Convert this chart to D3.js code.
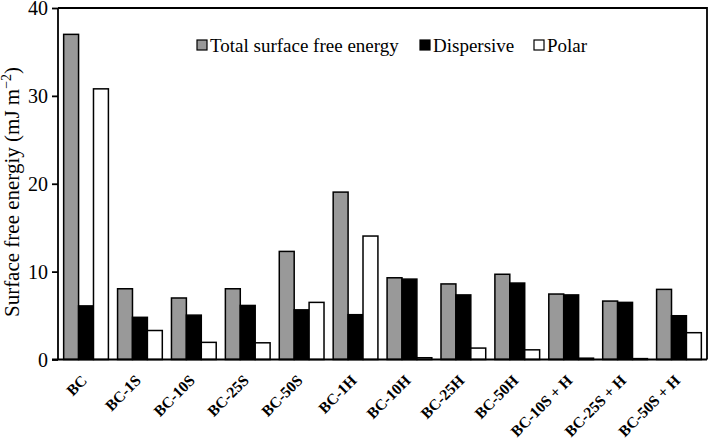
<!DOCTYPE html>
<html>
<head>
<meta charset="utf-8">
<script src="https://cdn.jsdelivr.net/npm/d3@7"></script>
<style>
  body { margin: 0; background: #fff; }
  svg { display: block; }
  svg text { font-family: "Liberation Serif", "Times New Roman", Times, serif !important; fill: #000; }
</style>
</head>
<body>
<svg id="chart" width="709" height="448"></svg>
<script>
const categories = ["BC","BC-1S","BC-10S","BC-25S","BC-50S","BC-1H","BC-10H","BC-25H","BC-50H","BC-10S + H","BC-25S + H","BC-50S + H"];
const seriesNames = ["Total surface free energy","Dispersive","Polar"];
const totalValues = [37.0, 8.05, 7.0, 8.05, 12.3, 19.05, 9.3, 8.6, 9.7, 7.45, 6.65, 7.98];
const dispersiveValues = [6.1, 4.8, 5.05, 6.15, 5.65, 5.1, 9.15, 7.35, 8.7, 7.35, 6.5, 4.98];
const polarValues = [30.8, 3.3, 1.95, 1.9, 6.5, 14.05, 0.2, 1.3, 1.1, 0.15, 0.1, 3.05];
const yTicks = [0, 10, 20, 30, 40];
const colors = ["#999999", "#000000", "#ffffff"];

const FONT = '"Liberation Serif", "Times New Roman", Times, serif';
const series = [totalValues, dispersiveValues, polarValues];
const svg = d3.select("#chart");
const margin = {left: 58, right: 2, top: 8, bottom: 88.5};
const W = 709, H = 448;

const x = d3.scaleBand().domain(categories).range([margin.left, W - margin.right])
  .paddingInner(0.17).paddingOuter(0.105);
const xs = d3.scaleBand().domain(seriesNames).range([0, x.bandwidth()]);
const y = d3.scaleLinear().domain([0, 40]).range([H - margin.bottom, margin.top]);

// bars
const g = svg.append("g");
categories.forEach((c, i) => {
  seriesNames.forEach((s, j) => {
    const v = series[j][i];
    g.append("rect")
      .attr("x", x(c) + xs(s))
      .attr("y", y(v))
      .attr("width", xs.bandwidth())
      .attr("height", y(0) - y(v))
      .attr("fill", colors[j])
      .attr("stroke", "#000")
      .attr("stroke-width", 1.5);
  });
});

// frame top/right
svg.append("path")
  .attr("d", `M${margin.left},${y(40)}H${W - margin.right}V${y(0)}`)
  .attr("fill", "none").attr("stroke", "#000").attr("stroke-width", 1.8);

// y axis
const yAxis = svg.append("g").attr("transform", `translate(${margin.left},0)`)
  .call(d3.axisLeft(y).tickValues(yTicks).tickSize(6).tickPadding(4));
yAxis.attr("font-family", FONT);
yAxis.selectAll("path, line").attr("stroke", "#000").attr("stroke-width", 1.8);
yAxis.selectAll("text").attr("font-family", FONT).style("font-size", "20px").attr("dy", "0.34em");
yAxis.select(".domain").attr("d", `M0,${y(40)}V${y(0)}`);

// x axis
const xAxis = svg.append("g").attr("transform", `translate(0,${y(0)})`)
  .call(d3.axisBottom(x).tickSize(0).tickFormat(""));
xAxis.select(".domain").attr("d", `M${margin.left - 6},0H${W - margin.right}`)
  .attr("stroke", "#000").attr("stroke-width", 1.8);

// category labels
svg.append("g").selectAll("text").data(categories).join("text")
  .attr("transform", d => `translate(${x(d) + x.bandwidth() / 2 + 2},${y(0) + 22}) rotate(-45)`)
  .attr("text-anchor", "end")
  .attr("font-family", FONT)
  .style("font-size", "15.5px")
  .style("font-weight", "bold")
  .text(d => d);

// y label
const yl = svg.append("text")
  .attr("transform", `translate(19,${192}) rotate(-90)`)
  .attr("text-anchor", "middle")
  .attr("font-family", FONT)
  .style("font-size", "21px");
yl.append("tspan").text("Surface free energiy (mJ m");
yl.append("tspan").attr("dy", -8).style("font-size", "14px").text("\u22122");
yl.append("tspan").attr("dy", 8).text(")");

// legend
const legendX = [197, 420, 534];
const legend = svg.append("g");
seriesNames.forEach((s, j) => {
  legend.append("rect")
    .attr("x", legendX[j]).attr("y", 40).attr("width", 10).attr("height", 10)
    .attr("fill", colors[j]).attr("stroke", "#000").attr("stroke-width", 1.2);
  legend.append("text")
    .attr("x", legendX[j] + 13).attr("y", 52)
    .attr("font-family", FONT)
    .style("font-size", "19px")
    .text(s);
});
</script>
</body>
</html>
